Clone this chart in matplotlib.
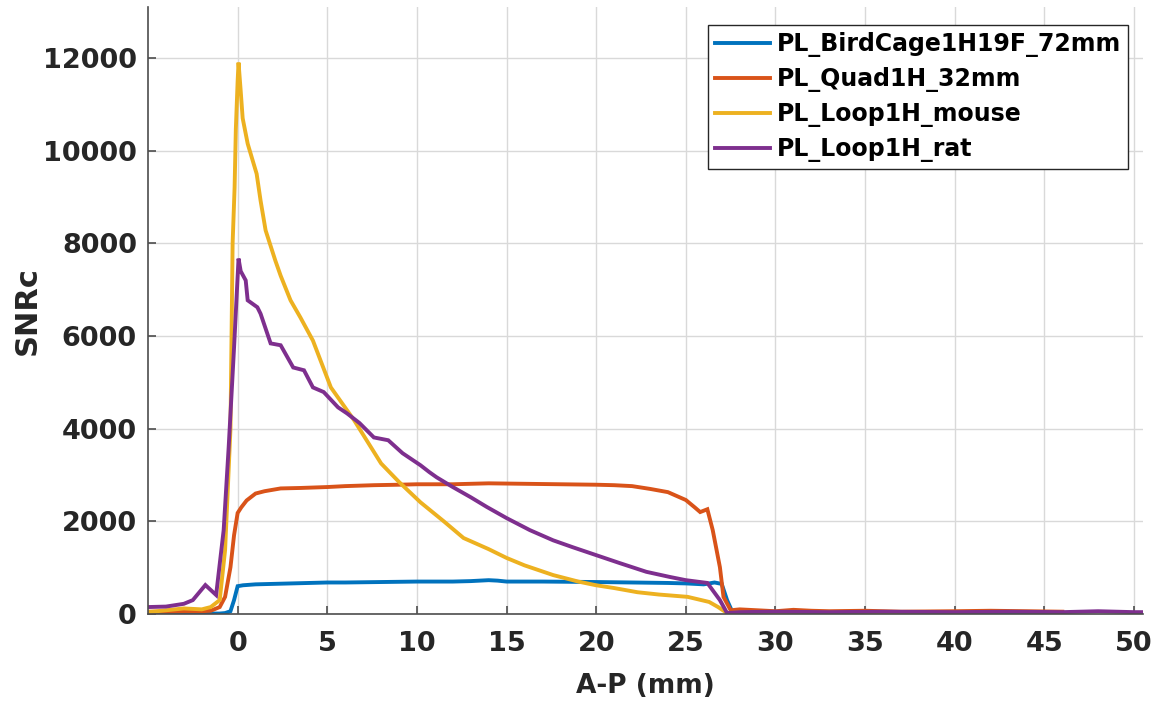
import numpy as np
import matplotlib
matplotlib.use("Agg")
import matplotlib.pyplot as plt

# Data (A-P position in mm vs SNRc)
labels = ["PL_BirdCage1H19F_72mm", "PL_Quad1H_32mm", "PL_Loop1H_mouse", "PL_Loop1H_rat"]
colors = ["#0072BD", "#D95319", "#EDB120", "#7E2F8E"]

x_bird = [-5, -4, -3, -2, -1, -0.7, -0.4, -0.2, 0, 0.3, 1, 2, 3, 4, 5, 6, 8, 10, 12, 13,
          14, 14.5, 15, 17, 20, 22, 24, 25, 26, 26.6, 27.0, 27.3, 27.6, 28, 30, 32, 35,
          38, 40, 42, 45, 46]
y_bird = [10, 10, 10, 10, 10, 20, 60, 300, 600, 620, 640, 650, 660, 670, 680, 680, 690,
          700, 700, 710, 730, 720, 700, 700, 690, 680, 670, 660, 640, 680, 650, 300, 40,
          20, 10, 20, 10, 15, 10, 15, 10, 10]

x_quad = [-5, -4, -3, -2, -1.5, -1, -0.7, -0.4, -0.2, 0, 0.2, 0.5, 1, 1.5, 2.4, 3.5, 5,
          6, 7.6, 9, 10, 12, 14, 16, 18, 20, 21, 22, 23, 24, 25, 25.5, 25.8, 26.2, 26.5,
          26.9, 27.1, 27.5, 28, 29, 30, 31, 32, 33, 35, 37, 40, 42, 44, 46]
y_quad = [50, 50, 60, 60, 70, 150, 370, 1010, 1700, 2180, 2300, 2450, 2600, 2650, 2710,
          2720, 2740, 2760, 2780, 2790, 2800, 2800, 2820, 2810, 2800, 2790, 2780, 2760,
          2700, 2630, 2460, 2300, 2200, 2260, 1810, 1010, 370, 80, 100, 80, 60, 90, 70,
          60, 70, 50, 60, 70, 60, 50]

x_mouse = [-5, -4, -3, -2, -1.5, -1, -0.7, -0.4, -0.28, -0.17, -0.1, 0, 0.05, 0.17, 0.28,
           0.56, 1.06, 1.28, 1.56, 2.1, 2.4, 2.95, 3.5, 4.2, 5.2, 6.5, 8, 9, 10.2, 11.5,
           12.6, 14, 15, 16, 17.6, 19, 20, 21, 22.3, 23.5, 25.1, 26.3, 26.8, 27.3, 28,
           30, 32, 35, 38, 40]
y_mouse = [40, 80, 120, 100, 150, 300, 1380, 4000, 8000, 9200, 10470, 11500, 11900, 11290,
           10700, 10150, 9500, 8920, 8280, 7630, 7300, 6770, 6400, 5900, 4890, 4180, 3250,
           2850, 2410, 2000, 1640, 1400, 1210, 1050, 840, 700, 620, 560, 470, 420, 370,
           260, 150, 20, 30, 10, 30, 20, 10, 10]

x_rat = [-5, -4, -3, -2.5, -1.8, -1.2, -0.78, -0.5, -0.2, 0.05, 0.17, 0.45, 0.56, 1.1,
         1.28, 1.84, 2.4, 3.1, 3.7, 4.2, 4.8, 5.6, 6.1, 6.8, 7.6, 8.4, 9.2, 10.2, 10.7,
         11.1, 12, 13, 13.9, 15, 16.3, 17.6, 18.7, 20, 21.3, 22.8, 24.1, 25, 26.2, 26.9,
         27.3, 28, 30, 33, 36, 40, 43, 46, 48, 50, 50.5]
y_rat = [150, 160, 220, 300, 625, 410, 1810, 3600, 5750, 7670, 7400, 7200, 6770, 6620,
         6480, 5840, 5800, 5320, 5260, 4890, 4790, 4460, 4330, 4120, 3810, 3750, 3470,
         3210, 3060, 2950, 2740, 2520, 2310, 2070, 1810, 1590, 1440, 1270, 1100, 910, 800,
         730, 670, 300, 20, 40, 50, 40, 50, 40, 50, 40, 60, 40, 40]

xticks = [0, 5, 10, 15, 20, 25, 30, 35, 40, 45, 50]
yticks = [0, 2000, 4000, 6000, 8000, 10000, 12000]

plt.rcParams['font.family'] = ['DejaVu Sans']
plt.rcParams['font.weight'] = 'bold'

fig = plt.figure(figsize=(11.59, 7.03), dpi=100)
ax = fig.add_axes([148 / 1159, 89 / 703, 995 / 1159, 607 / 703])

series = [(x_bird, y_bird), (x_quad, y_quad), (x_mouse, y_mouse), (x_rat, y_rat)]
for (xs, ys), lab, c in zip(series, labels, colors):
    ax.plot(xs, ys, color=c, lw=2.8, label=lab, solid_joinstyle='miter')

ax.set_xlim(-5, 50.5)
ax.set_ylim(0, 13100)
ax.set_xticks(xticks)
ax.set_yticks(yticks)
ax.grid(True, color='#d9d9d9', lw=1)
ax.set_axisbelow(True)

for s in ['top', 'right']:
    ax.spines[s].set_visible(False)
for s in ['left', 'bottom']:
    ax.spines[s].set_color('#4d4d4d')
    ax.spines[s].set_linewidth(1.2)

ax.tick_params(direction='in', length=6, width=1.2, color='#4d4d4d',
               labelsize=19.5, labelcolor='#262626')
ax.tick_params(axis='x', pad=12)
ax.tick_params(axis='y', pad=8)
for t in ax.get_xticklabels() + ax.get_yticklabels():
    t.set_fontweight('bold')

ax.set_xlabel("A-P (mm)", fontsize=19, fontweight='bold', color='#262626', labelpad=12)
ax.set_ylabel("SNRc", fontsize=22, fontweight='bold', color='#262626', labelpad=1)

leg = ax.legend(loc='upper right', bbox_to_anchor=(1128 / 1159, 1 - 25 / 703),
                bbox_transform=fig.transFigure, borderaxespad=0, fancybox=False,
                prop={'size': 17, 'weight': 'bold'}, handlelength=2.3,
                handletextpad=0.3, labelspacing=0.42, borderpad=0.3, framealpha=1)
leg.get_frame().set_edgecolor('#262626')
leg.get_frame().set_linewidth(1.0)

fig.savefig("out.png", dpi=100)
